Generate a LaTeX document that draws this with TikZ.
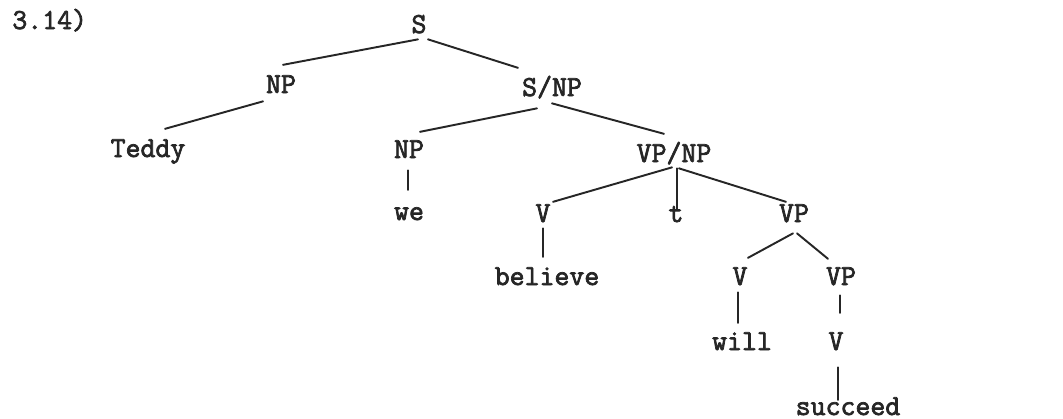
\documentclass[tikz,border=0pt]{standalone}
\usepackage{fontspec}
\setmonofont[FakeBold=2.5]{Latin Modern Mono}
\usetikzlibrary{calc}

\begin{document}
\begin{tikzpicture}[x=0.2mm,y=-0.2mm,line cap=round,
  lbl/.style={font=\ttfamily\fontsize{16.5}{18}\selectfont,text=black!85,inner sep=0pt,
    anchor=base,text height=9pt,text depth=0pt},
  br/.style={black!85,line width=1.1pt}]
\useasboundingbox (0,0) rectangle (1063,419);
% example number
\node[lbl,anchor=base west] (num) at (12,29) {3.14)};
% categories and words
\node[lbl] (s) at (419,33) {S};
\node[lbl] (np) at (281,93) {NP};
\node[lbl] (snp) at (552,96) {S/NP};
\node[lbl] (teddy) at (148,157) {Teddy};
\node[lbl] (np2) at (409,158) {NP};
\node[lbl] (vpnp) at (674,162) {VP/NP};
\node[lbl] (we) at (409,220) {we};
\node[lbl] (v) at (543,222) {V};
\node[lbl] (t) at (676,222) {t};
\node[lbl] (vp) at (794,222) {VP};
\node[lbl] (believe) at (547,285) {believe};
\node[lbl] (v2) at (740,285) {V};
\node[lbl] (vp2) at (841,285) {VP};
\node[lbl] (will) at (742,350) {will};
\node[lbl] (v3) at (836,350) {V};
\node[lbl] (succeed) at (848,415) {succeed};
% branches
\draw[br] ($(s.south)+(-1,6)$) -- ($(np.north)+(2,-12)$);
\draw[br] ($(s.south)+(9,6)$) -- ($(snp.north)+(-34,-12)$);
\draw[br] ($(np.south)+(-18,8)$) -- ($(teddy.north)+(17,-12)$);
\draw[br] ($(snp.south)+(-15,12)$) -- ($(np2.north)+(11,-10)$);
\draw[br] ($(snp.south)+(0,7)$) -- ($(vpnp.north)+(-10,-12)$);
\draw[br] ($(np2.south)+(-1,12)$) -- ($(we.north)+(-1,-14)$);
\draw[br] ($(vpnp.south)+(-2,5)$) -- ($(v.north)+(10,-4)$);
\draw[br] ($(vpnp.south)+(3,6)$) -- ($(t.north)+(1,4)$);
\draw[br] ($(vpnp.south)+(5,6)$) -- ($(vp.north)+(-8,-4)$);
\draw[br] ($(v.south)+(0,6)$) -- ($(believe.north)+(-4,-12)$);
\draw[br] ($(vp.south)+(-1,11)$) -- ($(v2.north)+(8,-11)$);
\draw[br] ($(vp.south)+(3,11)$) -- ($(vp2.north)+(-13,-10)$);
\draw[br] ($(v2.south)+(-2,7)$) -- ($(will.north)+(-4,-11)$);
\draw[br] ($(vp2.south)+(-1,10)$) -- ($(v3.north)+(4,-21)$);
\draw[br] ($(v3.south)+(2,17)$) -- ($(succeed.north)+(-10,1)$);
\end{tikzpicture}
\end{document}
